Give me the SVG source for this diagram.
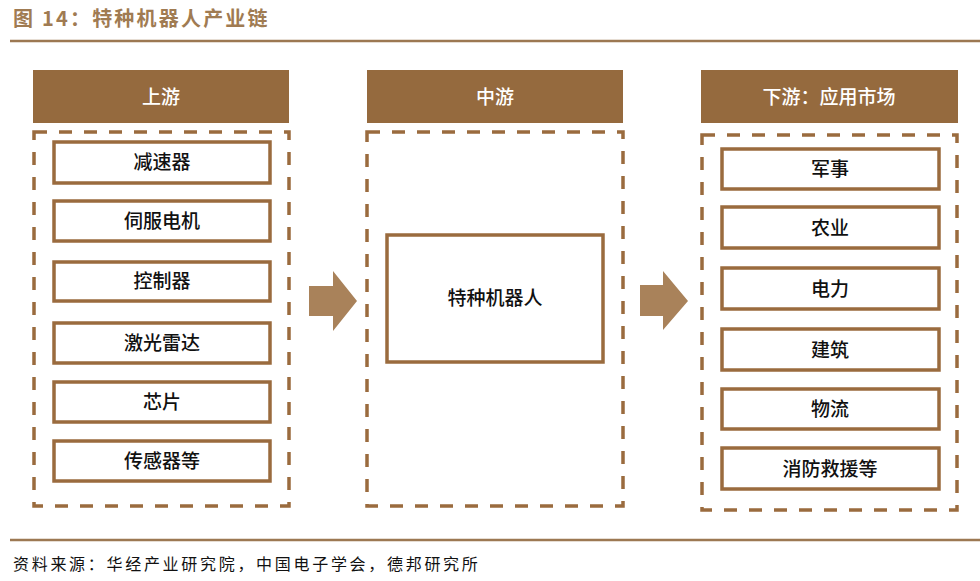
<svg xmlns="http://www.w3.org/2000/svg" width="980" height="581" viewBox="0 0 980 581">
<style>
.hdr{fill:#956a3e;}
.hdrt{fill:#fff;font-family:"Noto Sans CJK SC",sans-serif;font-size:19px;font-weight:500;text-anchor:middle;}
.dash{fill:none;stroke:#9a6b3e;stroke-width:3.5;stroke-dasharray:13 12;}
.box{fill:#fff;stroke:#9a6b3e;stroke-width:3.5;}
.lbl{fill:#111;font-family:"Noto Sans CJK SC",sans-serif;font-size:19px;font-weight:500;text-anchor:middle;}
.arr{fill:#a9825a;}
.rule{stroke:#9c7852;stroke-width:2.5;}
</style>
<rect width="980" height="581" fill="#fff"/>
<text x="13" y="26" font-family="'Noto Sans CJK SC',sans-serif" font-size="20" font-weight="700" letter-spacing="2.2" fill="#a07b52">图 14：特种机器人产业链</text>
<line class="rule" x1="10" y1="41" x2="980" y2="41"/>

<g id="upstream">
<rect class="hdr" x="33" y="70" width="256" height="53"/>
<text class="hdrt" x="161" y="104">上游</text>
<rect class="dash" x="34" y="132" width="255" height="374"/>
</g>
<g id="n1"><rect class="box" x="54" y="142" width="216" height="41"/><text class="lbl" x="162" y="169">减速器</text></g>
<g id="n2"><rect class="box" x="54" y="201" width="216" height="40"/><text class="lbl" x="162" y="228">伺服电机</text></g>
<g id="n3"><rect class="box" x="54" y="262" width="216" height="39"/><text class="lbl" x="162" y="288">控制器</text></g>
<g id="n4"><rect class="box" x="54" y="323" width="216" height="40"/><text class="lbl" x="162" y="350">激光雷达</text></g>
<g id="n5"><rect class="box" x="54" y="382" width="216" height="40"/><text class="lbl" x="162" y="409">芯片</text></g>
<g id="n6"><rect class="box" x="54" y="441" width="216" height="40"/><text class="lbl" x="162" y="468">传感器等</text></g>

<g id="midstream">
<rect class="hdr" x="367" y="70" width="256" height="53"/>
<text class="hdrt" x="495" y="104">中游</text>
<rect class="dash" x="367" y="132" width="256" height="374"/>
</g>
<g id="m1"><rect class="box" x="387" y="235" width="216" height="127"/><text class="lbl" x="495" y="305">特种机器人</text></g>

<g id="downstream">
<rect class="hdr" x="701" y="70" width="257" height="53"/>
<text class="hdrt" x="829" y="104">下游：应用市场</text>
<rect class="dash" x="702" y="135" width="255" height="375"/>
</g>
<g id="d1"><rect class="box" x="722" y="149" width="217" height="40"/><text class="lbl" x="830" y="176">军事</text></g>
<g id="d2"><rect class="box" x="722" y="207" width="217" height="41"/><text class="lbl" x="830" y="235">农业</text></g>
<g id="d3"><rect class="box" x="722" y="268" width="217" height="41"/><text class="lbl" x="830" y="296">电力</text></g>
<g id="d4"><rect class="box" x="722" y="329" width="217" height="41"/><text class="lbl" x="830" y="357">建筑</text></g>
<g id="d5"><rect class="box" x="722" y="389" width="217" height="40"/><text class="lbl" x="830" y="416">物流</text></g>
<g id="d6"><rect class="box" x="722" y="448" width="217" height="41"/><text class="lbl" x="830" y="476">消防救援等</text></g>

<g id="connectors">
<polygon class="arr" points="309,286 333,286 333,271 357,301 333,331 333,316 309,316"/>
<polygon class="arr" points="640,285 663,285 663,271 688,301 663,330 663,316 640,316"/>
</g>

<line class="rule" x1="10" y1="540" x2="980" y2="540"/>
<text x="13" y="570" font-family="'Noto Sans CJK SC',sans-serif" font-size="16" letter-spacing="2.7" fill="#111">资料来源：华经产业研究院，中国电子学会，德邦研究所</text>
</svg>
